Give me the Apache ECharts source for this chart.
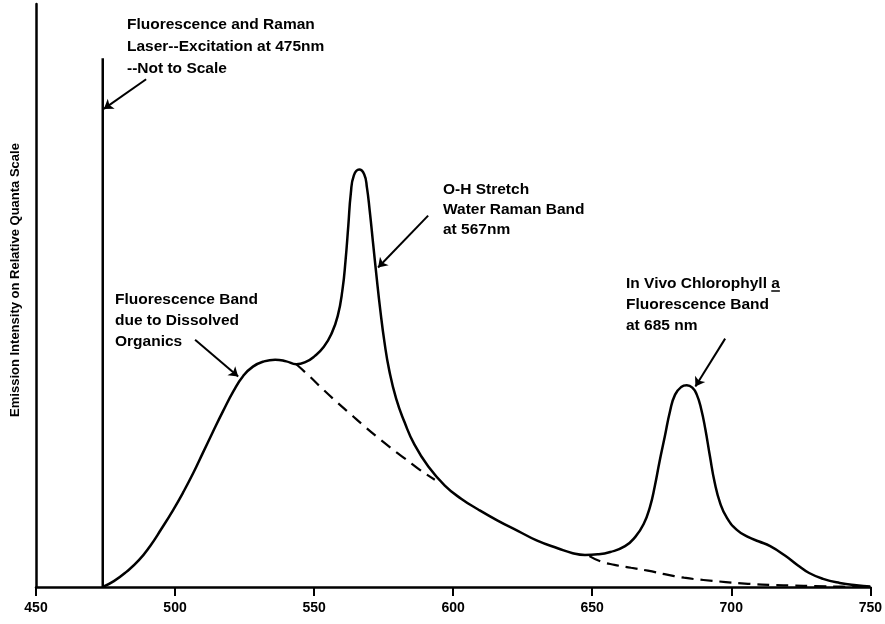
<!DOCTYPE html>
<html>
<head>
<meta charset="utf-8">
<script src="https://cdn.jsdelivr.net/npm/echarts@6/dist/echarts.min.js"></script>
<style>
  html, body { margin: 0; padding: 0; background: #fff; }
  #chart { width: 885px; height: 624px; }
</style>
</head>
<body>
<div id="chart"></div>
<script>
// wavelength (nm) and relative intensity
const emissionNm = [474, 478, 482.5, 487, 491, 495, 499.3, 503, 506.5, 510, 513.5, 517.3, 521, 524.5, 528, 532, 536, 540, 543.6, 547, 550.2, 553.5, 556.2, 558.5, 560.2, 561.3, 562.3, 563.2, 564.3, 566.2, 568, 569, 570, 571.2, 572.4, 573.8, 575.3, 577, 579.5, 582.5, 586, 591, 597, 603, 609, 616, 623.4, 630, 637.8, 643, 647.4, 652, 656.5, 661.8, 665.5, 668.5, 670.8, 672.5, 674.2, 676.1, 678, 679.8, 682, 684, 686, 687.6, 689.2, 690.7, 692.3, 694, 696, 698.5, 702, 706, 710, 714, 719.3, 724, 728, 733, 739, 745, 750]
const emissionVal = [0, 1.0, 2.6, 4.6, 7.0, 9.9, 13.2, 16.3, 19.5, 23.0, 26.5, 30.2, 33.6, 36.2, 37.8, 38.7, 39.0, 38.7, 38.2, 38.6, 39.6, 41.2, 43.4, 46.5, 51.0, 56.0, 62.0, 67.5, 70.6, 71.6, 70.8, 68.5, 64.5, 59.0, 53.5, 47.5, 42.0, 37.2, 32.3, 28.3, 24.5, 20.7, 17.4, 15.1, 13.3, 11.4, 9.6, 8.0, 6.6, 5.8, 5.5, 5.6, 6.0, 7.0, 8.6, 10.8, 13.8, 17.3, 21.5, 25.8, 30.2, 33.0, 34.3, 34.6, 34.2, 33.0, 30.5, 27.0, 22.5, 18.0, 14.4, 11.8, 9.8, 8.6, 7.8, 7.0, 5.4, 3.7, 2.4, 1.4, 0.7, 0.3, 0.1]

// dashed baselines under the Raman band and the chlorophyll band (null = gap)
const baseNm = [543.6, 548, 553, 558, 563, 568, 573, 578, 583, 588, 593.4, null, 649, 653, 658, 664, 670, 676, 683, 690, 698, 706, 714, 722, 730, 740, 750]
const baseVal = [38.2, 36.3, 34.0, 31.8, 29.7, 27.6, 25.6, 23.7, 21.9, 20.1, 18.4, null, 5.3, 4.4, 3.8, 3.3, 2.8, 2.2, 1.6, 1.2, 0.85, 0.55, 0.35, 0.25, 0.15, 0.05, 0]

// laser excitation line (not to scale)
const laserNm = [474, 474]
const laserVal = [0, 90.7]

const xTicks = [450, 500, 550, 600, 650, 700, 750]

// annotation arrows: [tailNm, tailVal, tipNm, tipVal]
const arrows = [
  [489.6, 87.1, 474.4, 82.0],
  [507.2, 42.4, 522.7, 36.1],
  [591.0, 63.7, 573.0, 54.8],
  [697.8, 42.6, 687.1, 34.4]
]

const pairs = (xs, ys) => xs.map((x, i) => (x === null ? [null, null] : [x, ys[i]]))

const chart = echarts.init(document.getElementById('chart'))
const font = 'bold 15.5px "Liberation Sans", Arial, sans-serif'

const measure = document.createElement('canvas').getContext('2d')
measure.font = font
const aLeft = 626 + measure.measureText('In Vivo Chlorophyll ').width
const aWidth = measure.measureText('a').width

chart.setOption({
  animation: false,
  grid: { left: 36, right: 13, top: 4, bottom: 37 },
  xAxis: {
    type: 'value',
    min: xTicks[0],
    max: xTicks[xTicks.length - 1],
    interval: 50,
    splitLine: { show: false },
    axisLine: { lineStyle: { color: '#000', width: 2.5 } },
    axisTick: { length: 9, lineStyle: { color: '#000', width: 2 } },
    axisLabel: { margin: 14, color: '#000', fontSize: 14, fontWeight: 'bold', fontFamily: 'Liberation Sans' }
  },
  yAxis: {
    type: 'value',
    min: 0,
    max: 100,
    splitLine: { show: false },
    axisLine: { show: true, lineStyle: { color: '#000', width: 2.5 } },
    axisTick: { show: false },
    axisLabel: { show: false }
  },
  series: [
    {
      type: 'line',
      data: pairs(emissionNm, emissionVal),
      smooth: 0.5,
      symbol: 'none',
      lineStyle: { color: '#000', width: 2.5 }
    },
    {
      type: 'line',
      data: pairs(baseNm, baseVal),
      smooth: 0.5,
      connectNulls: false,
      symbol: 'none',
      lineStyle: { color: '#000', width: 2.2, type: [12, 7] }
    },
    {
      type: 'line',
      data: pairs(laserNm, laserVal),
      symbol: 'none',
      lineStyle: { color: '#000', width: 2.5 }
    },
    {
      type: 'lines',
      coordinateSystem: 'cartesian2d',
      symbol: ['none', 'arrow'],
      symbolSize: 9,
      lineStyle: { color: '#000', width: 2, opacity: 1 },
      data: arrows.map(a => ({ coords: [[a[0], a[1]], [a[2], a[3]]] }))
    }
  ],
  graphic: [
    {
      type: 'text', x: 15, y: 280, rotation: Math.PI / 2,
      style: { text: 'Emission Intensity on Relative Quanta Scale', font: 'bold 13px "Liberation Sans", Arial, sans-serif', fill: '#000', align: 'center', verticalAlign: 'middle' }
    },
    {
      type: 'text', x: 127, y: 14,
      style: { text: 'Fluorescence and Raman\nLaser--Excitation at 475nm\n--Not to Scale', font, lineHeight: 22, fill: '#000' }
    },
    {
      type: 'text', x: 115, y: 289,
      style: { text: 'Fluorescence Band\ndue to Dissolved\nOrganics', font, lineHeight: 21, fill: '#000' }
    },
    {
      type: 'text', x: 443, y: 180,
      style: { text: 'O-H Stretch\nWater Raman Band\nat 567nm', font, lineHeight: 20, fill: '#000' }
    },
    {
      type: 'text', x: 626, y: 273,
      style: { text: 'In Vivo Chlorophyll a\nFluorescence Band\nat 685 nm', font, lineHeight: 21, fill: '#000' }
    },
    {
      type: 'line',
      shape: { x1: aLeft, y1: 291, x2: aLeft + aWidth, y2: 291 },
      style: { stroke: '#000', lineWidth: 1.5 }
    }
  ]
})
</script>
</body>
</html>
